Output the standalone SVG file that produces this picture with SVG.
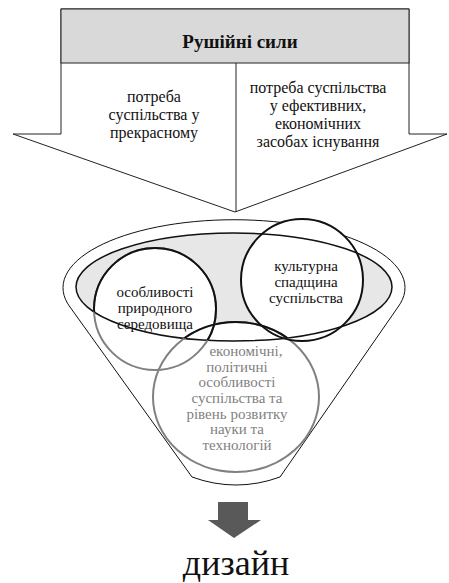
<svg xmlns="http://www.w3.org/2000/svg" width="449" height="583" viewBox="0 0 449 583">
<style>
.t{font-family:"Liberation Serif","Times New Roman",serif;font-size:16px;fill:#111;text-anchor:middle}
.c{font-size:15px}
.g{fill:#7f7f7f}
.h{font-weight:bold;font-size:19px}
.d{font-size:36px}
</style>
<defs>
<clipPath id="inner"><ellipse cx="234" cy="287" rx="158" ry="54"/></clipPath>
</defs>
<rect width="449" height="583" fill="#fff"/>
<g id="driving-forces">
<path d="M61 9H409V134H447L235 212L13 134H61Z" fill="#fff" stroke="#222" stroke-width="1"/>
<rect x="61" y="9" width="348" height="54" fill="#d9d9d9" stroke="#222" stroke-width="1"/>
<text class="t h" x="240" y="48">Рушійні сили</text>
<line x1="236" y1="63" x2="236" y2="212" stroke="#222" stroke-width="1"/>
</g>
<g id="need-beauty">
<text class="t" x="154" y="102">потреба</text>
<text class="t" x="154" y="120">суспільства у</text>
<text class="t" x="154" y="138">прекрасному</text>
</g>
<g id="need-efficient">
<text class="t" x="318" y="93">потреба суспільства</text>
<text class="t" x="318" y="111">у ефективних,</text>
<text class="t" x="318" y="129">економічних</text>
<text class="t" x="318" y="147">засобах існування</text>
</g>
<g id="funnel">
<path d="M70 307A171 68 0 1 1 398 307L280 477Q236 493 192 477Z" fill="#fff" stroke="#111" stroke-width="1"/>
<ellipse cx="234" cy="287" rx="158" ry="54" fill="#e7e7e7"/>
</g>
<g id="fills">
<ellipse cx="236" cy="397" rx="83" ry="75" fill="#fff"/>
<circle cx="155" cy="309" r="61" fill="#fff"/>
<circle cx="302" cy="280" r="61" fill="#fff"/>
<ellipse cx="234" cy="287" rx="158" ry="54" fill="none" stroke="#111" stroke-width="1.5"/>
</g>
<g id="economic">
<ellipse cx="236" cy="397" rx="83" ry="75" fill="none" stroke="#808080" stroke-width="2"/>
<ellipse cx="236" cy="397" rx="83" ry="75" fill="none" stroke="#111" stroke-width="2" clip-path="url(#inner)"/>
<text class="t c g" x="246" y="356">економічні,</text>
<text class="t c g" x="237" y="372">політичні</text>
<text class="t c g" x="237" y="387">особливості</text>
<text class="t c g" x="237" y="403">суспільства та</text>
<text class="t c g" x="237" y="419">рівень розвитку</text>
<text class="t c g" x="237" y="434">науки та</text>
<text class="t c g" x="237" y="450">технологій</text>
</g>
<g id="nature">
<circle cx="155" cy="309" r="61" fill="none" stroke="#808080" stroke-width="2"/>
<circle cx="155" cy="309" r="61" fill="none" stroke="#111" stroke-width="2" clip-path="url(#inner)"/>
<text class="t c" x="155" y="297">особливості</text>
<text class="t c" x="155" y="313">природного</text>
<text class="t c" x="155" y="329">середовища</text>
</g>
<g id="heritage">
<circle cx="302" cy="280" r="61" fill="none" stroke="#111" stroke-width="2"/>
<text class="t c" x="306" y="271">культурна</text>
<text class="t c" x="306" y="287">спадщина</text>
<text class="t c" x="306" y="303">суспільства</text>
</g>
<g id="connectors">
<polygon points="218,502 248,502 248,520 261,520 234,538 208,520 218,520" fill="#595959"/>
</g>
<g id="design">
<text class="t d" x="236" y="575">дизайн</text>
</g>
</svg>
